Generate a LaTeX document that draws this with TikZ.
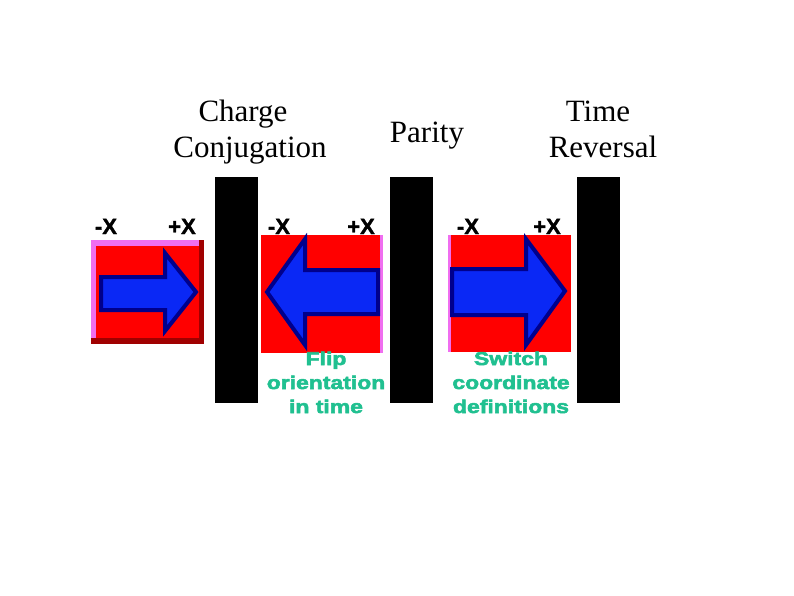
\documentclass[tikz,border=0pt]{standalone}
\usepackage{fontspec}
\setmainfont{Liberation Serif}
\newfontfamily\labf{Liberation Sans}[UprightFont={* Bold},FakeBold=1.5]
\newfontfamily\greenf{Liberation Sans}[UprightFont={* Bold},FakeStretch=1.24,FakeBold=3]
\definecolor{pinkc}{RGB}{240,110,240}
\definecolor{redc}{RGB}{255,0,0}
\definecolor{darkredc}{RGB}{160,0,0}
\definecolor{bluec}{RGB}{10,40,245}
\definecolor{navyc}{RGB}{0,0,140}
\definecolor{greenc}{RGB}{32,192,144}
\tikzset{
  title/.style={font=\fontsize{31}{31}\selectfont, anchor=base, inner sep=0pt},
  axlab/.style={font=\labf\fontsize{22}{22}\selectfont, anchor=base, inner sep=0pt},
  note/.style={font=\greenf\fontsize{18.5}{18.5}\selectfont, text=greenc, anchor=base, inner sep=0pt},
  bar/.style={fill=black},
  arrowshape/.style={fill=bluec, draw=navyc, line width=4pt, line join=miter},
}
\begin{document}
\begin{tikzpicture}[x=1pt,y=-1pt]
\useasboundingbox (0,0) rectangle (794,595);
\fill[white] (0,0) rectangle (794,595);
% titles
\node[title] (t1) at (243,121) {Charge};
\node[title] (t2) at (250,157) {Conjugation};
\node[title] (t3) at (427,142) {Parity};
\node[title] (t4) at (598,121) {Time};
\node[title] (t5) at (603,157) {Reversal};
% bars
\fill[bar] (215,177) rectangle (258,403);
\fill[bar] (390,177) rectangle (433,403);
\fill[bar] (577,177) rectangle (620,403);
% panel 1
\fill[darkredc] (91,240) rectangle (204,344);
\fill[pinkc] (91,240) rectangle (199,338);
\fill[redc] (96,246) rectangle (199,338);
\draw[arrowshape] (101,277) -- (165,277) -- (165,253) -- (196,292) -- (165,331) -- (165,310) -- (101,310) -- cycle;
% panel 2
\fill[pinkc] (261,235) rectangle (383,353);
\fill[redc] (261,235) rectangle (380,353);
\draw[arrowshape] (378,270) -- (305,270) -- (305,239) -- (267,292) -- (305,345) -- (305,314) -- (378,314) -- cycle;
% panel 3
\fill[pinkc] (448,235) rectangle (571,352);
\fill[redc] (451,235) rectangle (571,352);
\draw[arrowshape] (452,269) -- (526,269) -- (526,239) -- (565,291) -- (526,345) -- (526,315) -- (452,315) -- cycle;
% axis labels
\node[axlab] (m1) at (106,234) {-X};
\node[axlab] (p1) at (182,234) {+X};
\node[axlab] (m2) at (279,234) {-X};
\node[axlab] (p2) at (361,234) {+X};
\node[axlab] (m3) at (468,234) {-X};
\node[axlab] (p3) at (547,234) {+X};
% notes
\node[note] (n1) at (326,365) {Flip};
\node[note] (n2) at (326,389) {orientation};
\node[note] (n3) at (326,413) {in time};
\node[note] (n4) at (511,365) {Switch};
\node[note] (n5) at (511,389) {coordinate};
\node[note] (n6) at (511,413) {definitions};
\end{tikzpicture}
\end{document}
